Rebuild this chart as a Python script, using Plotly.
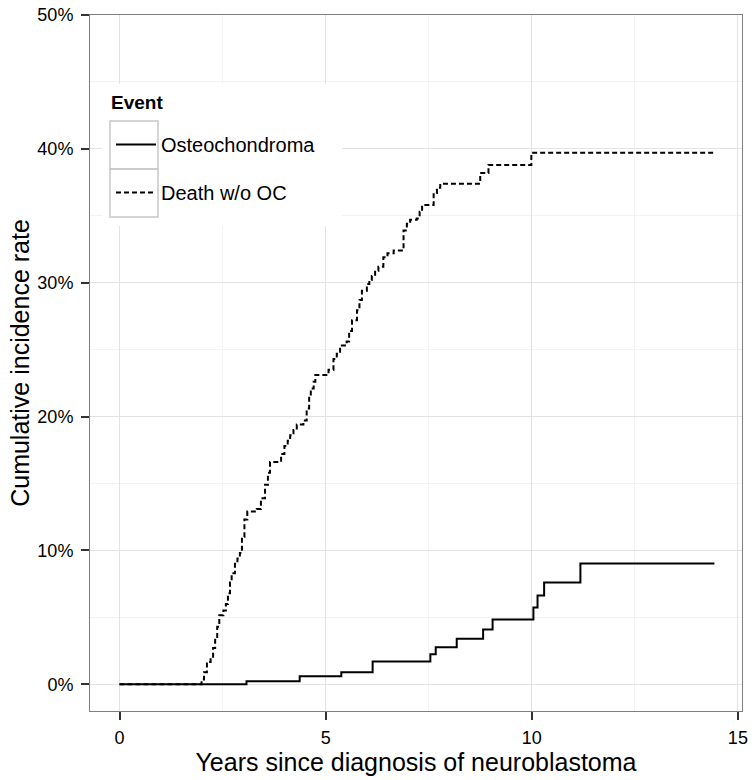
import plotly.graph_objects as go

# cumulative incidence, step functions (years, %)
oc_years = [0, 3.08, 4.37, 5.38, 6.14, 7.54, 7.67, 8.18, 8.82, 9.05,
            10.04, 10.14, 10.30, 11.18, 14.43]
oc_rate = [0, 0.22, 0.6, 0.9, 1.7, 2.24, 2.77, 3.39, 4.09, 4.83,
           5.73, 6.63, 7.6, 9.02, 9.02]

death_years = [0, 1.99, 2.05, 2.12, 2.21, 2.27, 2.32, 2.37, 2.42, 2.52,
               2.58, 2.63, 2.68, 2.72, 2.80, 2.86, 2.92, 2.97, 3.03, 3.10,
               3.33, 3.43, 3.53, 3.60, 3.65, 3.92, 4.00, 4.08, 4.14, 4.22,
               4.30, 4.46, 4.54, 4.60, 4.64, 4.71, 4.75, 5.07, 5.19, 5.27,
               5.35, 5.51, 5.57, 5.64, 5.76, 5.82, 5.88, 6.00, 6.06, 6.12,
               6.20, 6.28, 6.40, 6.50, 6.65, 6.89, 6.97, 7.05, 7.21, 7.28,
               7.34, 7.62, 7.70, 7.78, 8.75, 8.95, 9.99, 14.41]
death_rate = [0, 0.35, 0.9, 1.67, 1.95, 2.7, 3.4, 4.3, 5.16, 5.5,
              6.0, 6.8, 7.6, 8.3, 9.0, 9.4, 9.8, 11.0, 12.3, 12.9,
              13.1, 13.9, 14.9, 15.8, 16.6, 17.2, 17.8, 18.2, 18.6, 19.0,
              19.4, 19.7, 20.6, 21.5, 22.1, 22.6, 23.1, 23.5, 24.3, 24.7,
              25.3, 25.6, 26.4, 27.2, 27.95, 28.7, 29.4, 29.9, 30.2, 30.5,
              30.9, 31.2, 31.9, 32.2, 32.4, 33.9, 34.4, 34.7, 34.8, 35.3,
              35.8, 36.7, 37.1, 37.4, 38.2, 38.8, 39.7, 39.7]

x_ticks = [0, 5, 10, 15]
y_ticks = [0, 10, 20, 30, 40, 50]
y_labels = [f"{v}%" for v in y_ticks]

FONT = "Liberation Sans, Arial, Helvetica, sans-serif"
W, H = 756, 780
L, R, T, B = 90, 14, 15, 69


def px_x(p):
    return (p - L) / (W - L - R)


def px_y(p):
    return (H - B - p) / (H - T - B)


fig = go.Figure()
fig.add_trace(go.Scatter(
    x=oc_years, y=oc_rate, mode="lines", line_shape="hv",
    line=dict(color="black", width=2), name="Osteochondroma",
    legendgroup="a"))
fig.add_trace(go.Scatter(
    x=death_years, y=death_rate, mode="lines", line_shape="hv",
    line=dict(color="black", width=2, dash="5px,3px"), name="Death w/o OC",
    legendgroup="b"))

axis_common = dict(
    showline=True, mirror=True, linecolor="#7f7f7f", linewidth=1,
    ticks="outside", ticklen=8, tickwidth=2, tickcolor="#333333",
    gridcolor="#e3e3e3", gridwidth=1, zeroline=False,
    tickfont=dict(size=18, color="black"),
)

fig.update_xaxes(
    range=[-0.716, 15.1], tickvals=x_ticks,
    minor=dict(dtick=2.5, showgrid=True, gridcolor="#f3f3f3", ticks=""),
    title=dict(text="Years since diagnosis of neuroblastoma",
               font=dict(size=25), standoff=0),
    ticklabelstandoff=2,
    **axis_common)
fig.update_yaxes(
    range=[-2.0, 50], tickvals=y_ticks, ticktext=y_labels,
    minor=dict(dtick=5, showgrid=True, gridcolor="#f3f3f3", ticks=""),
    title=dict(text="Cumulative incidence rate", font=dict(size=25),
               standoff=0),
    ticklabelstandoff=4,
    **axis_common)

# legend panel: white background + grey boxes around the keys (ggplot look)
fig.add_shape(type="rect", xref="paper", yref="paper",
              x0=px_x(102), x1=px_x(342), y0=px_y(226), y1=px_y(84),
              fillcolor="white", line=dict(width=0), layer="above")
for top, bot in [(121, 169), (169, 217)]:
    fig.add_shape(type="rect", xref="paper", yref="paper",
                  x0=px_x(110), x1=px_x(158), y0=px_y(bot), y1=px_y(top),
                  line=dict(color="#c8c8c8", width=1.5), layer="above")
fig.add_annotation(text="<b>Event</b>", xref="paper", yref="paper",
                   x=px_x(109), y=px_y(102), xanchor="left", yanchor="middle",
                   showarrow=False, font=dict(size=19, color="black"))

fig.update_layout(
    width=W, height=H,
    margin=dict(l=L, r=R, t=T, b=B, autoexpand=False),
    paper_bgcolor="white", plot_bgcolor="white",
    font=dict(family=FONT, color="black"),
    showlegend=True,
    legend=dict(
        x=px_x(111), y=px_y(125), xanchor="left", yanchor="top",
        bgcolor="rgba(0,0,0,0)", borderwidth=0,
        font=dict(size=20), itemwidth=40, tracegroupgap=19,
        traceorder="grouped",
    ),
)

fig.write_html("out.html", config={"displayModeBar": False},
               post_script="document.body.style.margin='0';")
